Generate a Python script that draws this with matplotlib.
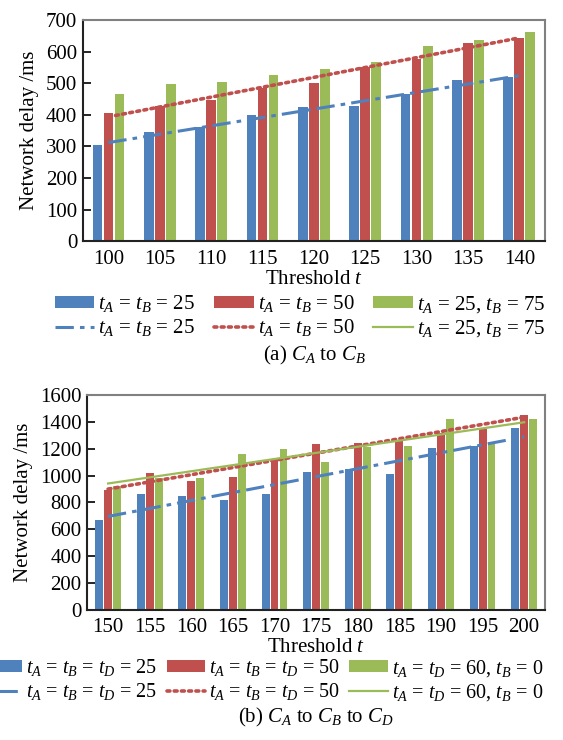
import matplotlib
matplotlib.use("Agg")
import matplotlib.pyplot as plt
from matplotlib.lines import Line2D
import numpy as np

plt.rcParams['font.family'] = ['Liberation Serif', 'DejaVu Serif']
plt.rcParams['mathtext.fontset'] = 'custom'
plt.rcParams['mathtext.rm'] = 'Liberation Serif'
plt.rcParams['mathtext.it'] = 'Liberation Serif:italic'

# (a) C_A to C_B
thr_a = [100, 105, 110, 115, 120, 125, 130, 135, 140]
a_25 = [305, 346, 362, 400, 425, 428, 465, 511, 520]
a_50 = [406, 429, 447, 484, 501, 552, 575, 628, 644]
a_25_75 = [466, 498, 504, 527, 546, 568, 619, 638, 663]
labels_a = [r'$t_A$ = $t_B$ = 25', r'$t_A$ = $t_B$ = 50', r'$t_A$ = 25, $t_B$ = 75']

# (b) C_A to C_B to C_D
thr_b = [150, 155, 160, 165, 170, 175, 180, 185, 190, 195, 200]
b_25 = [667, 861, 846, 816, 861, 1028, 1048, 1010, 1204, 1222, 1354]
b_50 = [891, 1018, 960, 988, 1122, 1234, 1244, 1265, 1320, 1351, 1453]
b_60_0 = [920, 985, 980, 1160, 1197, 1100, 1214, 1219, 1421, 1250, 1421]
labels_b = [r'$t_A$ = $t_B$ = $t_D$ = 25', r'$t_A$ = $t_B$ = $t_D$ = 50',
            r'$t_A$ = $t_D$ = 60, $t_B$ = 0']

colors = ['#4F81BD', '#C0504D', '#9BBB59']
styles = [dict(ls=(0, (6, 2, 1.5, 2)), lw=2.2),
          dict(ls=(0, (0.8, 1.2)), lw=2.6, dash_capstyle='round'),
          dict(ls='-', lw=1.6)]

fig = plt.figure(figsize=(5.63, 7.40), dpi=100)
ax1 = fig.add_axes([0.147, 0.674, 0.821, 0.299])
ax2 = fig.add_axes([0.155, 0.176, 0.813, 0.290])

FS = 15


def draw(ax, thr, series, labels, ymax, ystep, trend_on, leg_xy, leg_fs, colsp):
    x = np.arange(len(thr))
    w = 0.19
    handles = []
    for i, (vals, c) in enumerate(zip(series, colors)):
        b = ax.bar(x + (i - 1) * 0.215, vals, w, color=c, zorder=2)
        # linear trendline
        k, m = np.polyfit(x, vals, 1)
        ln = Line2D([], [], color=c, **styles[i])
        if trend_on[i]:
            ln, = ax.plot([x[0], x[-1]], [m, k * x[-1] + m], color=c, zorder=3, **styles[i])
        handles += [b, ln]
    ax.set_xlim(-0.5, len(thr) - 0.5)
    ax.set_ylim(0, ymax)
    ax.set_yticks(np.arange(0, ymax + 1, ystep))
    ax.set_xticks(x)
    ax.set_xticklabels([str(t) for t in thr])
    ax.tick_params(axis='y', direction='in', length=6, width=1.2, labelsize=FS, pad=4)
    ax.tick_params(axis='x', length=0, labelsize=FS, pad=6)
    for s in ['left', 'bottom']:
        ax.spines[s].set_color('#222222')
        ax.spines[s].set_linewidth(1.5)
    for s in ['top', 'right']:
        ax.spines[s].set_color('#808080')
        ax.spines[s].set_linewidth(1.5)
    ax.set_ylabel('Network delay /ms', fontsize=FS, labelpad=5)
    ax.set_xlabel(r'Threshold $t$', fontsize=FS, labelpad=1)
    lab = [labels[0], labels[0], labels[1], labels[1], labels[2], labels[2]]
    fig.legend(handles, lab, ncol=3, loc='center', bbox_to_anchor=leg_xy,
               frameon=False, fontsize=leg_fs, handlelength=1.9, handleheight=0.5,
               handletextpad=0.2, labelspacing=0.15, columnspacing=colsp,
               borderpad=0, borderaxespad=0)


draw(ax1, thr_a, [a_25, a_50, a_25_75], labels_a, 700, 100,
     [True, True, False], (0.533, 0.573), FS, 0.9)
draw(ax2, thr_b, [b_25, b_50, b_60_0], labels_b, 1600, 200,
     [True, True, True], (0.468, 0.081), 14.5, 0.45)

fig.text(0.559, 0.520, r'(a) $C_A$ to $C_B$', ha='center', va='center', fontsize=FS)
fig.text(0.561, 0.030, r'(b) $C_A$ to $C_B$ to $C_D$', ha='center', va='center', fontsize=FS)

fig.savefig('out.png', dpi=100)
